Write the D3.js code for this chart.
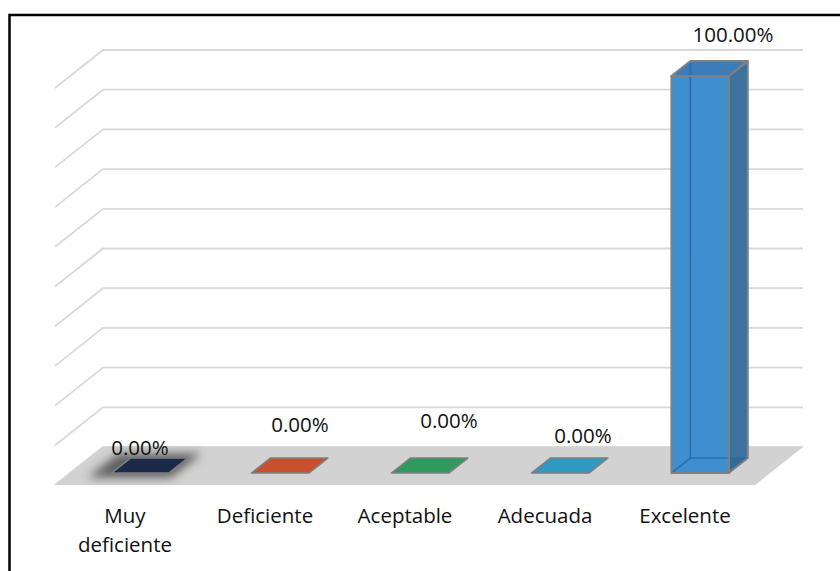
<!DOCTYPE html>
<html>
<head>
<meta charset="utf-8">
<script src="https://cdn.jsdelivr.net/npm/d3@7"></script>
<style>
  html, body { margin: 0; padding: 0; background: #fff; }
  svg { display: block; }
  text { font-family: "Open Sans", "Noto Sans", sans-serif; fill: #111; }
</style>
</head>
<body>
<svg id="chart" width="840" height="571"></svg>
<script>
// ---- data ----
const categories = ["Muy deficiente", "Deficiente", "Aceptable", "Adecuada", "Excelente"];
const values = [0, 0, 0, 0, 1];
const gridValues = [0, 0.1, 0.2, 0.3, 0.4, 0.5, 0.6, 0.7, 0.8, 0.9, 1];

// ---- style / layout (not data) ----
const barColors = ["#1c2a4a", "#c9502c", "#2f9a5e", "#2f9bc1", "#3f8fd0"];
const shadowed = [true, false, false, false, false];
// Excel places these labels oddly; nudges relative to top-back centre of each bar
const labelNudge = [[-33, 8], [-13, -15], [-4, -19], [-10, -4], [0, -8]];

const W = 840, H = 571;
const left = 55, plotW = 700;
const floorFront = 485, topFront = 88;
const depthDX = 48, depthDY = -38;
const z0 = 0.315, z1 = 0.71;
const fontSize = 20.5;

const svg = d3.select("#chart");

const x = d3.scaleBand().domain(categories).range([left, left + plotW]).paddingInner(0).paddingOuter(0);
const y = d3.scaleLinear().domain([0, 1]).range([floorFront, topFront]);
const zx = d3.scaleLinear().domain([0, 1]).range([0, depthDX]);
const zy = d3.scaleLinear().domain([0, 1]).range([0, depthDY]);
const proj = (px, v, z) => [px + zx(z), y(v) + zy(z)];
const barW = x.bandwidth() * 0.41;

const defs = svg.append("defs");
defs.append("filter").attr("id", "glow")
  .attr("x", "-50%").attr("y", "-150%").attr("width", "200%").attr("height", "400%")
  .append("feGaussianBlur").attr("stdDeviation", 5);

// frame (left and top edges visible)
svg.append("rect").attr("x", 9.5).attr("y", 15).attr("width", 900).attr("height", 700)
  .attr("fill", "none").attr("stroke", "#000").attr("stroke-width", 2.5);

// gridlines: back wall + left wall
const grid = svg.append("g").attr("stroke", "#d9d9d9").attr("stroke-width", 1.8).attr("fill", "none");
gridValues.forEach(v => {
  const a = proj(left, v, 0), b = proj(left, v, 1), c = proj(left + plotW, v, 1);
  grid.append("polyline").attr("points", [a, b, c].map(p => p.join(",")).join(" "));
});

// floor
const floorPts = [proj(left, 0, 0), proj(left + plotW, 0, 0), proj(left + plotW, 0, 1), proj(left, 0, 1)];
svg.append("polygon").attr("points", floorPts.map(p => p.join(",")).join(" ")).attr("fill", "#d2d2d2");

const poly = pts => pts.map(p => p.join(",")).join(" ");
const bars = svg.append("g");

categories.forEach((cat, i) => {
  const v = values[i];
  const xa = x(cat) + (x.bandwidth() - barW) / 2, xb = xa + barW;
  const g = bars.append("g");
  if (v === 0) {
    const pts = [proj(xa, 0, z0), proj(xb, 0, z0), proj(xb, 0, z1), proj(xa, 0, z1)];
    if (shadowed[i]) {
      const sp = [proj(xa - 18, 0, z0 - 0.12), proj(xb + 8, 0, z0 - 0.12), proj(xb + 8, 0, z1 + 0.12), proj(xa - 18, 0, z1 + 0.12)];
      g.append("polygon").attr("points", poly(sp)).attr("fill", "#3a3a3a").attr("opacity", 0.75).attr("filter", "url(#glow)");
    }
    g.append("polygon").attr("points", poly(pts)).attr("fill", barColors[i])
      .attr("stroke", "#7f7f7f").attr("stroke-width", 1.6).attr("stroke-linejoin", "round");
  } else {
    const c = d3.color(barColors[i]);
    const side = [proj(xb, 0, z0), proj(xb, 0, z1), proj(xb, v, z1), proj(xb, v, z0)];
    const top = [proj(xa, v, z0), proj(xb, v, z0), proj(xb, v, z1), proj(xa, v, z1)];
    const front = [proj(xa, 0, z0), proj(xb, 0, z0), proj(xb, v, z0), proj(xa, v, z0)];
    g.append("polygon").attr("points", poly(side)).attr("fill", "#3d72a0");
    g.append("polygon").attr("points", poly(top)).attr("fill", "#3b7cb6");
    g.append("polygon").attr("points", poly(front)).attr("fill", barColors[i]);
    // hidden edges seen through the translucent box
    const hid = g.append("g").attr("stroke", "#2a6aa6").attr("stroke-width", 1.6).attr("fill", "none").attr("opacity", 0.9);
    hid.append("polyline").attr("points", poly([proj(xa, 0, z0), proj(xa, 0, z1), proj(xb, 0, z1)]));
    hid.append("line").attr("x1", proj(xa, 0, z1)[0]).attr("y1", proj(xa, 0, z1)[1])
      .attr("x2", proj(xa, v, z1)[0]).attr("y2", proj(xa, v, z1)[1]);
    // lower part of side darker (below hidden bottom edge)
    g.append("polygon").attr("points", poly([proj(xb, 0, z0), proj(xb, 0, z1), [proj(xb, 0, z0)[0], proj(xb, 0, z1)[1]]]))
      .attr("fill", "#2f6592").attr("opacity", 0.6);
    const out = g.append("g").attr("stroke", "#808080").attr("stroke-width", 2).attr("fill", "none").attr("stroke-linejoin", "round");
    out.append("polygon").attr("points", poly(front));
    out.append("polygon").attr("points", poly(side));
    out.append("polygon").attr("points", poly(top));
  }
  // value label
  const tp = proj(x(cat) + x.bandwidth() / 2, v, 1);
  svg.append("text")
    .attr("x", tp[0] + labelNudge[i][0]).attr("y", tp[1] + labelNudge[i][1])
    .attr("text-anchor", "middle").attr("font-size", fontSize)
    .text(d3.format(".2%")(v));
});

// category labels with wrapping
const catG = svg.append("g");
categories.forEach(cat => {
  const t = catG.append("text").attr("text-anchor", "middle").attr("font-size", fontSize)
    .attr("x", x(cat) + x.bandwidth() / 2).attr("y", floorFront + 38);
  const words = cat.split(" ");
  let line = [], lineNo = 0;
  let tspan = t.append("tspan").attr("x", x(cat) + x.bandwidth() / 2).attr("dy", 0);
  words.forEach(w => {
    line.push(w);
    tspan.text(line.join(" "));
    if (tspan.node().getComputedTextLength() > 120 && line.length > 1) {
      line.pop();
      tspan.text(line.join(" "));
      line = [w];
      lineNo++;
      tspan = t.append("tspan").attr("x", x(cat) + x.bandwidth() / 2).attr("dy", 29).text(w);
    }
  });
});
</script>
</body>
</html>
